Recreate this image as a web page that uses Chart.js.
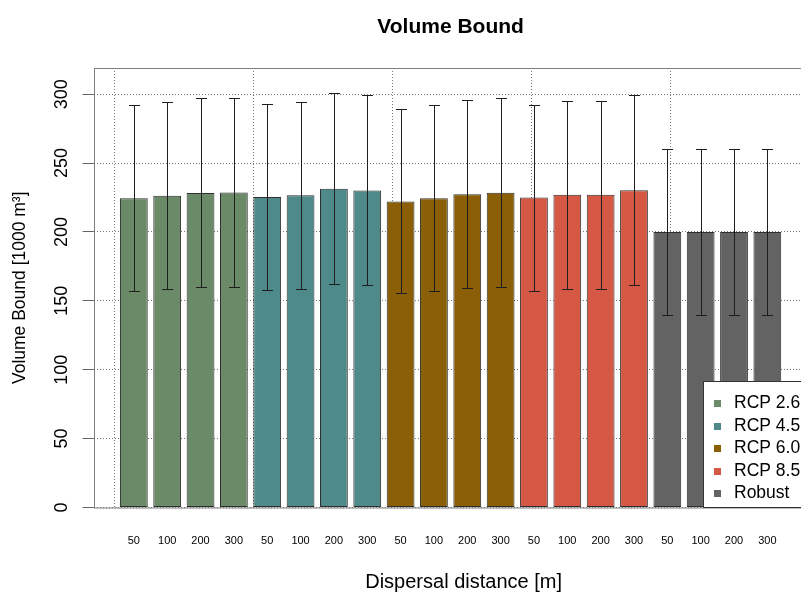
<!DOCTYPE html>
<html>
<head>
<meta charset="utf-8">
<title>Volume Bound</title>
<script src="https://cdn.jsdelivr.net/npm/chart.js@4/dist/chart.umd.min.js"></script>
<style>
  html, body { margin: 0; padding: 0; background: #fff; overflow: hidden; }
  #wrap { width: 801px; height: 592px; overflow: hidden; }
</style>
</head>
<body>
<div id="wrap"><canvas id="myChart" width="815" height="592"></canvas></div>
<script>
// data
const distanceLabels = ['50', '100', '200', '300'];
const scenarioNames = ['RCP 2.6', 'RCP 4.5', 'RCP 6.0', 'RCP 8.5', 'Robust'];
const scenarioColors = ['#6a8a68', '#4e8a8a', '#8b5f08', '#d45844', '#636363'];

const rcp26Mean = [224.5, 226.2, 228.2, 228.6];
const rcp45Mean = [225.3, 226.7, 231.3, 230.1];
const rcp60Mean = [222.1, 224.5, 227.4, 228.4];
const rcp85Mean = [225.0, 227.0, 227.0, 230.3];
const robustMean = [200, 200, 200, 200];

const rcp26Low = [157.4, 158.4, 159.9, 159.9];
const rcp45Low = [157.7, 158.7, 162.1, 161.4];
const rcp60Low = [155.8, 157.2, 159.4, 159.9];
const rcp85Low = [157.4, 158.9, 158.9, 161.2];
const robustLow = [140, 140, 140, 140];

const rcp26High = [291.8, 294.3, 296.9, 297.2];
const rcp45High = [292.8, 294.5, 300.8, 299.6];
const rcp60High = [288.9, 291.8, 295.7, 296.9];
const rcp85High = [292.3, 295.0, 295.0, 299.3];
const robustHigh = [260, 260, 260, 260];

const yTicks = [0, 50, 100, 150, 200, 250, 300];
const xGridLines = [0, 5, 10, 15, 20];

const meanValues = [rcp26Mean, rcp45Mean, rcp60Mean, rcp85Mean, robustMean];
const lowValues = [rcp26Low, rcp45Low, rcp60Low, rcp85Low, robustLow];
const highValues = [rcp26High, rcp45High, rcp60High, rcp85High, robustHigh];

const chartTitle = 'Volume Bound';
const xTitle = 'Dispersal distance [m]';
const fontFamily = '"Liberation Sans", Arial, Helvetica, sans-serif';

// barplot style positions: width 1, space 0.2
const barPositions = [];
meanValues.forEach((arr, g) => arr.forEach((v, j) => barPositions.push(0.7 + 1.2 * (g * 4 + j))));

const datasets = scenarioNames.map((name, g) => ({
    label: name,
    data: meanValues[g].map((v, j) => ({ x: barPositions[g * 4 + j], y: v })),
    backgroundColor: scenarioColors[g],
    borderColor: '#2e2e2e',
    borderWidth: 1,
    borderSkipped: false,
    grouped: false,
    categoryPercentage: 1,
    barPercentage: 1 / 1.2,
    errLow: lowValues[g],
    errHigh: highValues[g]
}));

// frame around the plot region
const plotFrame = {
    id: 'plotFrame',
    beforeDatasetsDraw(chart) {
        const { ctx, chartArea: a } = chart;
        ctx.save();
        ctx.strokeStyle = '#7f7f7f';
        ctx.lineWidth = 1;
        ctx.strokeRect(Math.round(a.left) + 0.5, Math.round(a.top) + 0.5, a.right - a.left, a.bottom - a.top);
        ctx.restore();
    }
};

const errorBars = {
    id: 'errorBars',
    afterDatasetsDraw(chart) {
        const ctx = chart.ctx;
        const y = chart.scales.y;
        ctx.save();
        ctx.strokeStyle = '#1e1e1e';
        ctx.lineWidth = 1;
        chart.data.datasets.forEach((ds, i) => {
            chart.getDatasetMeta(i).data.forEach((bar, j) => {
                const x = Math.round(bar.x) + 0.5;
                const top = Math.round(y.getPixelForValue(ds.errHigh[j])) + 0.5;
                const bot = Math.round(y.getPixelForValue(ds.errLow[j])) + 0.5;
                ctx.beginPath();
                ctx.moveTo(x, top); ctx.lineTo(x, bot);
                ctx.moveTo(x - 5.5, top); ctx.lineTo(x + 5.5, top);
                ctx.moveTo(x - 5.5, bot); ctx.lineTo(x + 5.5, bot);
                ctx.stroke();
            });
        });
        ctx.restore();
    }
};

// legend box in the bottom right corner, drawn over the bars
const boxLegend = {
    id: 'boxLegend',
    afterDraw(chart) {
        const { ctx, chartArea: a } = chart;
        const w = 105, h = 127;
        const left = Math.round(a.right - w), top = Math.round(a.bottom - h);
        ctx.save();
        ctx.fillStyle = '#fff';
        ctx.fillRect(left, top, w + 10, h);
        ctx.strokeStyle = '#333';
        ctx.lineWidth = 1;
        ctx.strokeRect(left + 0.5, top + 0.5, w + 10, h - 1);
        ctx.font = '17.5px ' + fontFamily;
        ctx.textBaseline = 'middle';
        ctx.textAlign = 'left';
        chart.data.datasets.forEach((ds, i) => {
            const cy = top + 22.5 + i * 22.5;
            ctx.fillStyle = ds.backgroundColor;
            ctx.fillRect(left + 11, Math.round(cy - 3.5), 7, 7);
            ctx.fillStyle = '#000';
            ctx.fillText(ds.label, left + 31, cy);
        });
        ctx.restore();
    }
};

// main title and x axis label, centred on the plot region
const titles = {
    id: 'titles',
    afterDraw(chart) {
        const { ctx, chartArea: a } = chart;
        const cx = (a.left + a.right) / 2;
        ctx.save();
        ctx.fillStyle = '#000';
        ctx.textAlign = 'center';
        ctx.textBaseline = 'alphabetic';
        ctx.font = 'bold 21px ' + fontFamily;
        ctx.fillText(chartTitle, cx, 32.5);
        ctx.font = '20px ' + fontFamily;
        ctx.fillText(xTitle, cx + 13, 587.5);
        ctx.restore();
    }
};

const ctx = document.getElementById('myChart').getContext('2d');
const myChart = new Chart(ctx, {
    type: 'bar',
    data: { datasets: datasets },
    options: {
        responsive: false,
        animation: false,
        layout: { padding: { top: 68, right: 7.3, left: 0, bottom: 0 } },
        plugins: {
            legend: { display: false },
            title: { display: false },
            tooltip: { enabled: false }
        },
        scales: {
            x: {
                type: 'linear',
                position: 'bottom',
                offset: false,
                min: -0.752,
                max: 24.952,
                afterBuildTicks: s => { s.ticks = barPositions.map(v => ({ value: v })); },
                afterFit: s => { s.height = 84.5; },
                ticks: {
                    autoSkip: false,
                    maxRotation: 0,
                    padding: 27,
                    color: '#000',
                    font: { size: 11, family: fontFamily },
                    callback: (v, i) => distanceLabels[i % 4]
                },
                grid: { display: false, drawTicks: false, offset: false },
                border: { display: false }
            },
            xg: {
                type: 'linear',
                position: 'top',
                offset: false,
                min: -0.752,
                max: 24.952,
                afterBuildTicks: s => { s.ticks = xGridLines.map(v => ({ value: v })); },
                afterFit: s => { s.height = 0; },
                ticks: { display: false },
                grid: { color: '#777', drawTicks: false, offset: false },
                border: { display: false, dash: [1, 2] }
            },
            y: {
                type: 'linear',
                position: 'left',
                min: 0,
                max: 319,
                afterBuildTicks: s => { s.ticks = yTicks.map(v => ({ value: v })); },
                afterFit: s => { s.width = 93.5; },
                ticks: {
                    minRotation: 90,
                    maxRotation: 90,
                    crossAlign: 'center',
                    padding: 5.5,
                    color: '#000',
                    font: { size: 18, family: fontFamily }
                },
                grid: { color: '#777', tickColor: '#666', tickLength: 11, tickBorderDash: [] },
                border: { display: false, dash: [1, 2] },
                title: {
                    display: true,
                    text: 'Volume Bound [1000 m³]',
                    color: '#000',
                    font: { size: 17.5, family: fontFamily, lineHeight: 1 },
                    padding: { top: 11, bottom: 0 }
                }
            }
        }
    },
    plugins: [plotFrame, errorBars, boxLegend, titles]
});
</script>
</body>
</html>
